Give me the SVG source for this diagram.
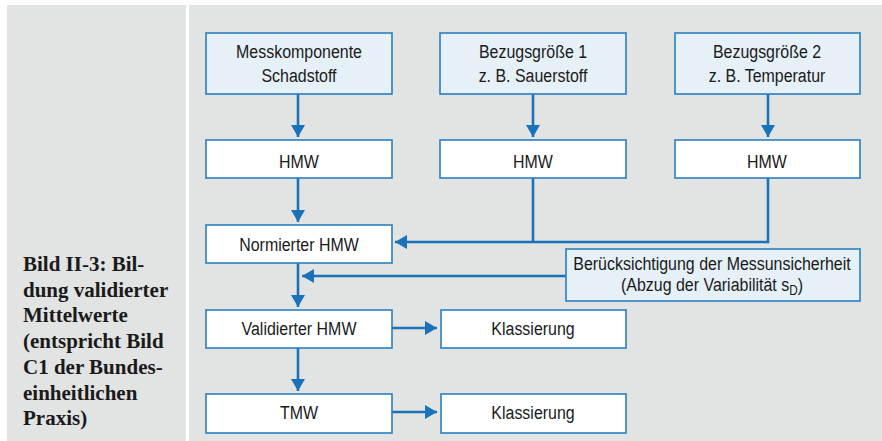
<svg xmlns="http://www.w3.org/2000/svg" width="882" height="441" viewBox="0 0 882 441">
<defs>
<marker id="ah" viewBox="0 0 12 14" refX="12" refY="7" markerWidth="12" markerHeight="14" markerUnits="userSpaceOnUse" orient="auto">
<path d="M0,0 L12,7 L0,14 Z" fill="#1a72b8"/>
</marker>
<style>
.bg{fill:#e2e3e3}
.n{fill:#ffffff;stroke:#2a7fc0;stroke-width:1.6}
.s{fill:#e6f0f7;stroke:#2a7fc0;stroke-width:1.6}
.t{font-family:"Liberation Sans",Arial,sans-serif;font-size:19px;fill:#1a1a1a;text-anchor:middle}
.c{font-family:"Liberation Serif","Times New Roman",serif;font-size:21px;font-weight:bold;fill:#1a1a1a}
.l{fill:none;stroke:#1a72b8;stroke-width:2.6}
</style>
</defs>
<rect width="882" height="441" fill="#ffffff"/>
<rect class="bg" x="7" y="5" width="179" height="436"/>
<rect class="bg" x="189" y="5" width="693" height="436"/>
<g id="caption">
<text class="c" x="23" y="271">Bild II-3: Bil-</text>
<text class="c" x="23" y="297">dung validierter</text>
<text class="c" x="23" y="322">Mittelwerte</text>
<text class="c" x="23" y="348">(entspricht Bild</text>
<text class="c" x="23" y="374">C1 der Bundes-</text>
<text class="c" x="23" y="400">einheitlichen</text>
<text class="c" x="23" y="425">Praxis)</text>
</g>
<g id="connectors">
<path class="l" d="M298,94 V137" marker-end="url(#ah)"/>
<path class="l" d="M533,94 V137" marker-end="url(#ah)"/>
<path class="l" d="M768,94 V137" marker-end="url(#ah)"/>
<path class="l" d="M298,178 V222" marker-end="url(#ah)"/>
<path class="l" d="M533,178 V242"/>
<path class="l" d="M768,178 V242 H395" marker-end="url(#ah)"/>
<path class="l" d="M298,263 V307" marker-end="url(#ah)"/>
<path class="l" d="M566,276 H302" marker-end="url(#ah)"/>
<path class="l" d="M392,328 H437" marker-end="url(#ah)"/>
<path class="l" d="M298,348 V391" marker-end="url(#ah)"/>
<path class="l" d="M392,412 H437" marker-end="url(#ah)"/>
</g>
<g id="messkomponente">
<rect class="s" x="206" y="33" width="186" height="61"/>
<text class="t" transform="translate(299,58) scale(0.84,1)">Messkomponente</text>
<text class="t" transform="translate(299,82) scale(0.84,1)">Schadstoff</text>
</g>
<g id="bezug1">
<rect class="s" x="440" y="33" width="186" height="61"/>
<text class="t" transform="translate(533,58) scale(0.84,1)">Bezugsgröße 1</text>
<text class="t" transform="translate(533,82) scale(0.84,1)">z. B. Sauerstoff</text>
</g>
<g id="bezug2">
<rect class="s" x="675" y="33" width="185" height="61"/>
<text class="t" transform="translate(767,58) scale(0.84,1)">Bezugsgröße 2</text>
<text class="t" transform="translate(767,82) scale(0.84,1)">z. B. Temperatur</text>
</g>
<g id="hmw1">
<rect class="n" x="206" y="140" width="186" height="38"/>
<text class="t" transform="translate(299,168) scale(0.84,1)">HMW</text>
</g>
<g id="hmw2">
<rect class="n" x="440" y="140" width="186" height="38"/>
<text class="t" transform="translate(533,168) scale(0.84,1)">HMW</text>
</g>
<g id="hmw3">
<rect class="n" x="675" y="140" width="185" height="38"/>
<text class="t" transform="translate(767,168) scale(0.84,1)">HMW</text>
</g>
<g id="normiert">
<rect class="n" x="206" y="225" width="186" height="38"/>
<text class="t" transform="translate(299,251) scale(0.84,1)">Normierter HMW</text>
</g>
<g id="messunsicherheit">
<rect class="s" x="566" y="249" width="294" height="52"/>
<text class="t" transform="translate(712,270) scale(0.84,1)">Berücksichtigung der Messunsicherheit</text>
<text class="t" transform="translate(712,291) scale(0.84,1)">(Abzug der Variabilität s<tspan font-size="14" dy="4">D</tspan><tspan dy="-4">)</tspan></text>
</g>
<g id="validiert">
<rect class="n" x="206" y="310" width="186" height="38"/>
<text class="t" transform="translate(299,335) scale(0.84,1)">Validierter HMW</text>
</g>
<g id="klassierung1">
<rect class="n" x="441" y="310" width="185" height="38"/>
<text class="t" transform="translate(533,335) scale(0.84,1)">Klassierung</text>
</g>
<g id="tmw">
<rect class="n" x="206" y="394" width="186" height="39"/>
<text class="t" transform="translate(299,419) scale(0.84,1)">TMW</text>
</g>
<g id="klassierung2">
<rect class="n" x="441" y="394" width="185" height="39"/>
<text class="t" transform="translate(533,419) scale(0.84,1)">Klassierung</text>
</g>
</svg>
